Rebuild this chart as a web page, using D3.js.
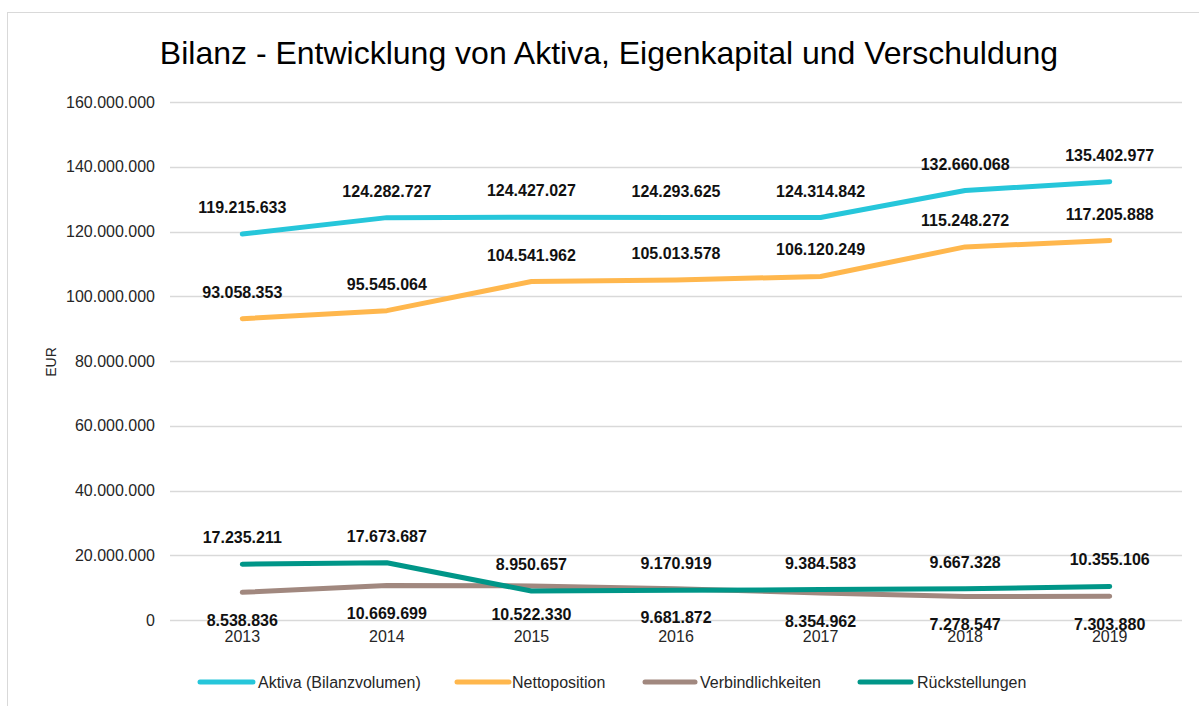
<!DOCTYPE html>
<html lang="de">
<head>
<meta charset="utf-8">
<script src="https://cdn.jsdelivr.net/npm/d3@7"></script>
<style>
  html, body { margin: 0; padding: 0; background: #fff; }
  svg { display: block; font-family: "Liberation Sans", Arial, sans-serif; }
</style>
</head>
<body>
<svg id="chart" width="1199" height="706"></svg>
<script>
// Jahre und Reihenwerte (EUR)
const years = ["2013", "2014", "2015", "2016", "2017", "2018", "2019"];
const aktiva = [119215633, 124282727, 124427027, 124293625, 124314842, 132660068, 135402977];
const nettoposition = [93058353, 95545064, 104541962, 105013578, 106120249, 115248272, 117205888];
const verbindlichkeiten = [8538836, 10669699, 10522330, 9681872, 8354962, 7278547, 7303880];
const rueckstellungen = [17235211, 17673687, 8950657, 9170919, 9384583, 9667328, 10355106];
const yTicks = [0, 20000000, 40000000, 60000000, 80000000, 100000000, 120000000, 140000000, 160000000];

const series = [
  { name: "Aktiva (Bilanzvolumen)", values: aktiva, color: "#26c6da", labelPos: "above" },
  { name: "Nettoposition", values: nettoposition, color: "#ffb74d", labelPos: "above" },
  { name: "Verbindlichkeiten", values: verbindlichkeiten, color: "#a1887f", labelPos: "below" },
  { name: "Rückstellungen", values: rueckstellungen, color: "#009688", labelPos: "above" }
];

(function draw() {
  const svg = d3.select("#chart");
  const fmt = v => d3.format(",")(v).replace(/,/g, ".");

  // Rahmen
  svg.append("rect")
    .attr("x", 7.5).attr("y", 12.5)
    .attr("width", 1210).attr("height", 720)
    .attr("fill", "#fff").attr("stroke", "#d9d9d9").attr("stroke-width", 1);

  // Titel
  svg.append("text")
    .attr("x", 609).attr("y", 64)
    .attr("text-anchor", "middle")
    .attr("font-size", 32)
    .attr("fill", "#000")
    .text("Bilanz - Entwicklung von Aktiva, Eigenkapital und Verschuldung");

  const plotLeft = 170, plotRight = 1182, plotTop = 102, plotBottom = 620;

  const x = d3.scaleBand().domain(years).range([plotLeft, plotRight]);
  const cx = d => x(d) + x.bandwidth() / 2;
  const y = d3.scaleLinear().domain([0, 160000000]).range([plotBottom, plotTop]);

  // Gitterlinien
  svg.append("g")
    .selectAll("line")
    .data(yTicks)
    .join("line")
    .attr("x1", plotLeft).attr("x2", plotRight)
    .attr("y1", d => Math.round(y(d)) + 0.5)
    .attr("y2", d => Math.round(y(d)) + 0.5)
    .attr("stroke", "#d9d9d9").attr("stroke-width", 1.5);

  // Y-Achse
  const yAxis = svg.append("g")
    .attr("transform", `translate(${plotLeft - 12},0)`)
    .call(d3.axisLeft(y).tickValues(yTicks).tickSize(0).tickFormat(fmt));
  yAxis.select(".domain").remove();
  yAxis.selectAll("text")
    .attr("font-size", 16)
    .attr("font-family", "Liberation Sans, Arial, sans-serif")
    .attr("fill", "#262626");

  // X-Achse
  const xAxis = svg.append("g")
    .attr("transform", `translate(0,${plotBottom + 8})`)
    .call(d3.axisBottom(x).tickSize(0));
  xAxis.select(".domain").remove();
  xAxis.selectAll("text")
    .attr("font-size", 16)
    .attr("font-family", "Liberation Sans, Arial, sans-serif")
    .attr("fill", "#262626");

  // Achsentitel
  svg.append("text")
    .attr("transform", "translate(56,362) rotate(-90)")
    .attr("text-anchor", "middle")
    .attr("font-size", 14)
    .attr("fill", "#262626")
    .text("EUR");

  // Linien
  const line = d3.line()
    .x((d, i) => cx(years[i]))
    .y(d => y(d));

  [2, 3, 1, 0].forEach(k => {
    const s = series[k];
    svg.append("path")
      .datum(s.values)
      .attr("d", line)
      .attr("fill", "none")
      .attr("stroke", s.color)
      .attr("stroke-width", 5)
      .attr("stroke-linecap", "round")
      .attr("stroke-linejoin", "round");
  });

  // Datenbeschriftungen
  series.forEach(s => {
    svg.append("g")
      .selectAll("text")
      .data(s.values)
      .join("text")
      .attr("x", (d, i) => cx(years[i]))
      .attr("y", d => y(d) + (s.labelPos === "above" ? -21 : 34))
      .attr("text-anchor", "middle")
      .attr("font-size", 16)
      .attr("font-weight", "bold")
      .attr("fill", "#111")
      .text(fmt);
  });

  // Legende
  const legendItems = [
    { x: 200, w: 53, tx: 258 },
    { x: 457, w: 52, tx: 512 },
    { x: 645, w: 50, tx: 700 },
    { x: 860, w: 51, tx: 917 }
  ];
  const legend = svg.append("g");
  series.forEach((s, i) => {
    const it = legendItems[i];
    legend.append("line")
      .attr("x1", it.x).attr("x2", it.x + it.w)
      .attr("y1", 682).attr("y2", 682)
      .attr("stroke", s.color).attr("stroke-width", 5)
      .attr("stroke-linecap", "round");
    legend.append("text")
      .attr("x", it.tx).attr("y", 688)
      .attr("font-size", 16)
      .attr("fill", "#262626")
      .text(s.name);
  });
})();
</script>
</body>
</html>
